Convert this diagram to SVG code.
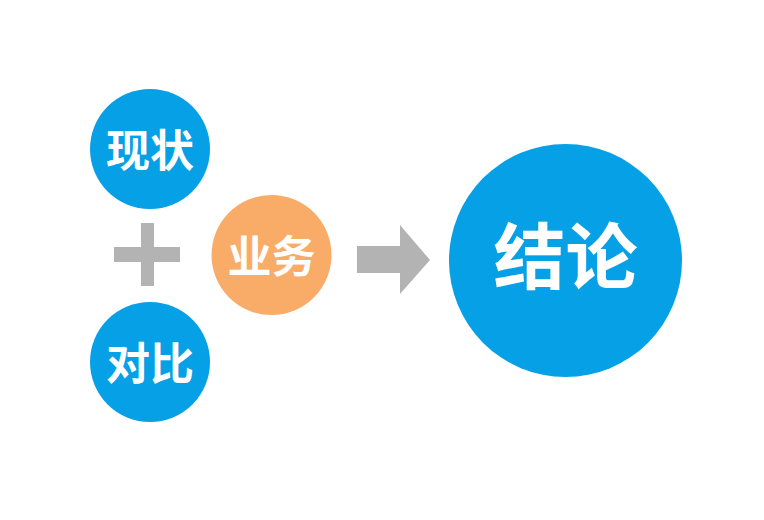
<svg xmlns="http://www.w3.org/2000/svg" width="764" height="520" viewBox="0 0 764 520">
<style>
.blue{fill:#05A0E6}
.orange{fill:#F9AC67}
.gray{fill:#B3B3B3}
.t{fill:#FFFFFF;font-family:"Noto Sans CJK SC","Noto Sans",sans-serif;font-weight:bold;text-anchor:middle}
</style>
<rect width="764" height="520" fill="#FFFFFF"/>
<g id="connectors">
<g id="plus" class="gray">
<rect x="114" y="247" width="66" height="15"/>
<rect x="141" y="223" width="13" height="63"/>
</g>
<polygon id="arrow" class="gray" points="357,246 400,246 400,225 430,260 400,294 400,273 357,273"/>
</g>
<g id="node-xianzhuang">
<circle class="blue" cx="150" cy="149" r="60"/>
<text class="t" x="150" y="167" font-size="44">现状</text>
</g>
<g id="node-duibi">
<circle class="blue" cx="150" cy="362" r="60"/>
<text class="t" x="150" y="380" font-size="44">对比</text>
</g>
<g id="node-yewu">
<circle class="orange" cx="271.5" cy="255" r="60"/>
<text class="t" x="271.5" y="273" font-size="44">业务</text>
</g>
<g id="node-jielun">
<circle class="blue" cx="565.5" cy="260.5" r="116.5"/>
<text class="t" x="565.5" y="283" font-size="72">结论</text>
</g>
</svg>
